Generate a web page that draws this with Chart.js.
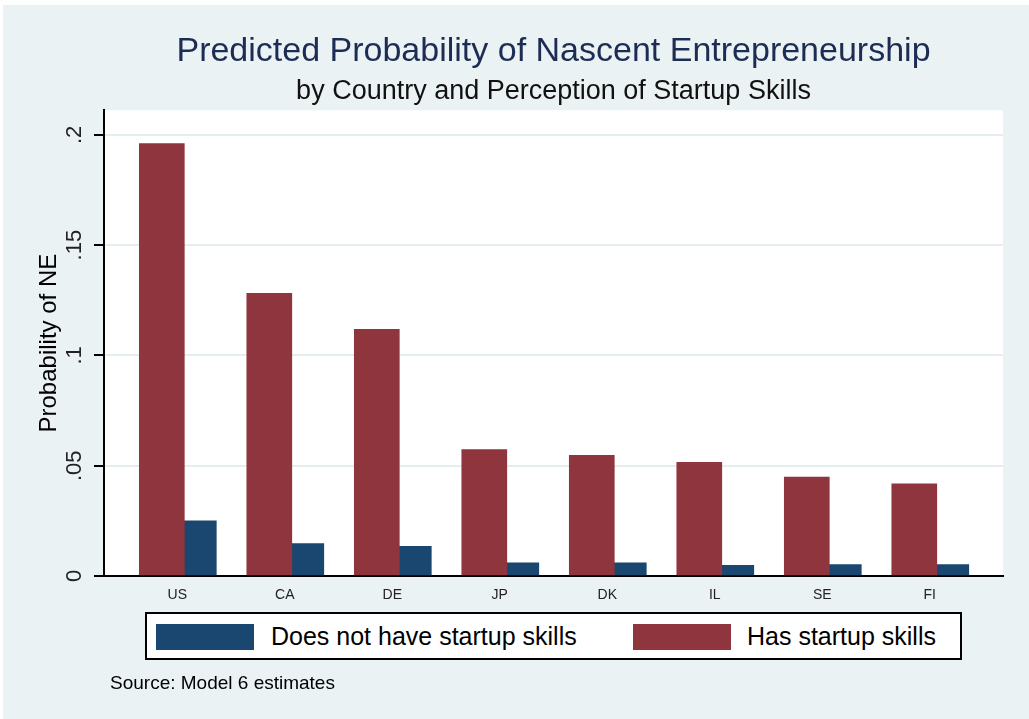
<!DOCTYPE html>
<html>
<head>
<meta charset="utf-8">
<script src="https://cdn.jsdelivr.net/npm/chart.js@4.4.0/dist/chart.umd.min.js"></script>
<style>
    body { margin: 0; background: #ffffff; }
    #wrap { position: relative; width: 1029px; height: 719px; font-family: "Liberation Sans", Arial, sans-serif; }
    #nascent_chart { position: absolute; left: 0; top: 0; }
    #legend_box { position: absolute; left: 145px; top: 612px; width: 817px; height: 48px; box-sizing: border-box; border: 2px solid #000; background: #fff; }
    .legend_swatch { position: absolute; top: 10px; width: 98px; height: 26px; }
    .legend_text { position: absolute; top: 0; height: 44px; line-height: 44px; font-size: 25px; color: #000; white-space: nowrap; }
    #source_note { position: absolute; left: 110px; top: 672px; font-size: 19px; line-height: 22px; color: #000; white-space: nowrap; }
</style>
</head>
<body>
<div id="wrap">
    <canvas id="nascent_chart" width="1029" height="719"></canvas>
    <div id="legend_box"></div>
    <div id="source_note">Source: Model 6 estimates</div>
</div>
<script>
// 国ラベル
const countries = ['US', 'CA', 'DE', 'JP', 'DK', 'IL', 'SE', 'FI'];
// スキルあり(赤)
const has_skills = [0.1961, 0.1282, 0.1118, 0.0573, 0.0547, 0.0515, 0.0448, 0.0418];
// スキルなし(青)
const no_skills = [0.0250, 0.0147, 0.0135, 0.0060, 0.0060, 0.0048, 0.0052, 0.0052];
// Y軸の目盛り
const y_tick_values = [0, 0.05, 0.1, 0.15, 0.2];
const y_tick_labels = ['0', '.05', '.1', '.15', '.2'];

Chart.defaults.font.family = '"Liberation Sans", Arial, sans-serif';

// 背景とプロット領域を塗る
const background_plugin = {
    id: 'stata_background',
    beforeDraw(chart) {
        const ctx = chart.ctx;
        const area = chart.chartArea;
        ctx.save();
        ctx.fillStyle = '#ffffff';
        ctx.fillRect(0, 0, chart.width, chart.height);
        ctx.fillStyle = '#eaf2f3';
        ctx.fillRect(3, 5, chart.width - 3, chart.height - 5);
        ctx.fillStyle = '#ffffff';
        ctx.fillRect(area.left, area.top, area.right - area.left, area.bottom - area.top);
        ctx.restore();
    }
};

// データセットを作成
function getDataset(label, values, color, thickness)
{
    return {
        label: label,
        data: values.map(function(v, i) { return {x: i, y: v}; }),
        backgroundColor: color,
        borderWidth: 0,
        barThickness: thickness
    };
}

const chart_data = {
    datasets: [
        getDataset('Has startup skills', has_skills, '#8f353d', 45),
        getDataset('Does not have startup skills', no_skills, '#1a476f', 32)
    ]
};

const chart = new Chart(document.getElementById('nascent_chart').getContext('2d'), {
    type: 'bar',
    data: chart_data,
    plugins: [background_plugin],
    options: {
        responsive: false,
        animation: false,
        layout: { padding: { left: 0, right: 26, top: 0, bottom: 113 } },
        plugins: {
            legend: { display: false },
            tooltip: { enabled: false },
            title: {
                display: true,
                fullSize: false,
                text: 'Predicted Probability of Nascent Entrepreneurship',
                color: '#1c2c54',
                font: { size: 34, weight: 'normal' },
                padding: { top: 31, bottom: 0 }
            },
            subtitle: {
                display: true,
                fullSize: false,
                text: 'by Country and Perception of Startup Skills',
                color: '#111',
                font: { size: 27, weight: 'normal' },
                padding: { top: 4, bottom: 2 }
            }
        },
        scales: {
            x: {
                type: 'linear',
                offset: false,
                min: -0.747,
                max: 7.616,
                afterBuildTicks: function(axis) {
                    axis.ticks = countries.map(function(c, i) { return {value: i}; });
                },
                afterFit: function(axis) { axis.height = 30; },
                ticks: {
                    callback: function(value) { return countries[value]; },
                    font: { size: 14 },
                    color: '#222',
                    padding: 11,
                    labelOffset: -7,
                    autoSkip: false,
                    maxRotation: 0
                },
                grid: { display: false, drawTicks: false, offset: false },
                border: { color: '#000', width: 2 }
            },
            y: {
                min: 0,
                max: 0.2112,
                afterBuildTicks: function(axis) {
                    axis.ticks = y_tick_values.map(function(v) { return {value: v}; });
                },
                afterFit: function(axis) { axis.width = 104; },
                ticks: {
                    callback: function(value) { return y_tick_labels[y_tick_values.indexOf(value)]; },
                    font: { size: 22 },
                    color: '#222',
                    minRotation: 90,
                    maxRotation: 90,
                    crossAlign: 'center',
                    padding: 4
                },
                grid: {
                    color: function(ctx) { return ctx.tick && ctx.tick.value === 0 ? 'rgba(0,0,0,0)' : '#e4eef0'; },
                    lineWidth: 2,
                    tickColor: '#000',
                    tickLength: 10,
                    tickWidth: 2
                },
                border: { color: '#000', width: 2 },
                title: {
                    display: true,
                    text: 'Probability of NE',
                    color: '#000',
                    font: { size: 24 },
                    padding: { top: 35, bottom: 0 }
                }
            }
        }
    }
});

// 凡例(スキルなし→スキルあり の順)
const legend_items = [
    { index: 1, swatch_left: 9, text_left: 124 },
    { index: 0, swatch_left: 486, text_left: 600 }
];
const legend_box = document.getElementById('legend_box');
legend_items.forEach(function(item) {
    const ds = chart_data.datasets[item.index];
    const swatch = document.createElement('div');
    swatch.className = 'legend_swatch';
    swatch.style.left = item.swatch_left + 'px';
    swatch.style.background = ds.backgroundColor;
    legend_box.appendChild(swatch);
    const text = document.createElement('div');
    text.className = 'legend_text';
    text.style.left = item.text_left + 'px';
    text.textContent = ds.label;
    legend_box.appendChild(text);
});
</script>
</body>
</html>
